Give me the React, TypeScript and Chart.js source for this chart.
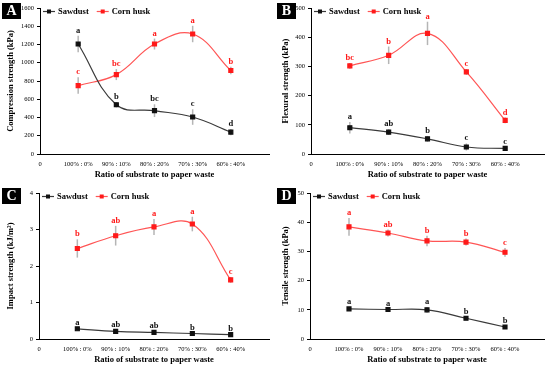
import React, { useEffect, useRef } from 'react';
import { Chart, registerables } from 'chart.js';
Chart.register(...registerables);

const FONT = "'Liberation Serif', 'DejaVu Serif', serif";

const categories = ['100% : 0%', '90% : 10%', '80% : 20%', '70% : 30%', '60% : 40%'];
const seriesNames = ['Sawdust', 'Corn husk'];

// A: Compression strength
const compSaw = [1205, 540, 475, 405, 240];
const compSawErr = [90, 30, 70, 85, 35];
const compSawLetters = ['a', 'b', 'bc', 'c', 'd'];
const compCorn = [750, 870, 1205, 1315, 915];
const compCornErr = [90, 60, 60, 90, 40];
const compCornLetters = ['c', 'bc', 'a', 'a', 'b'];

// B: Flexural strength
const flexSaw = [90, 75, 52, 24, 19];
const flexSawErr = [20, 10, 10, 12, 5];
const flexSawLetters = ['a', 'ab', 'b', 'c', 'c'];
const flexCorn = [302, 338, 413, 281, 115];
const flexCornErr = [10, 30, 40, 10, 10];
const flexCornLetters = ['bc', 'b', 'a', 'c', 'd'];

// C: Impact strength
const impSaw = [0.28, 0.21, 0.18, 0.15, 0.12];
const impSawErr = [0.03, 0.03, 0.03, 0.02, 0.02];
const impSawLetters = ['a', 'ab', 'ab', 'b', 'b'];
const impCorn = [2.48, 2.83, 3.07, 3.15, 1.62];
const impCornErr = [0.25, 0.27, 0.22, 0.2, 0.08];
const impCornLetters = ['b', 'ab', 'a', 'a', 'c'];

// D: Tensile strength
const tenSaw = [10.3, 10.1, 10.0, 7.1, 4.1];
const tenSawErr = [0.5, 0.3, 1.0, 0.5, 0.5];
const tenSawLetters = ['a', 'a', 'a', 'b', 'b'];
const tenCorn = [38.4, 36.3, 33.6, 33.2, 29.7];
const tenCornErr = [3, 1.2, 1.8, 1.2, 1.5];
const tenCornLetters = ['a', 'ab', 'b', 'b', 'c'];

type PanelCfg = {
  tag: string;
  yTitle: string;
  yMax: number;
  yStep: number;
  yWidth: number;
  saw: number[]; sawErr: number[]; sawLetters: string[];
  corn: number[]; cornErr: number[]; cornLetters: string[];
};

const panels: PanelCfg[] = [
  { tag: 'A', yTitle: 'Compression strength (kPa)', yMax: 1600, yStep: 200, yWidth: 40,
    saw: compSaw, sawErr: compSawErr, sawLetters: compSawLetters,
    corn: compCorn, cornErr: compCornErr, cornLetters: compCornLetters },
  { tag: 'B', yTitle: 'Flexural strength (kPa)', yMax: 500, yStep: 100, yWidth: 36,
    saw: flexSaw, sawErr: flexSawErr, sawLetters: flexSawLetters,
    corn: flexCorn, cornErr: flexCornErr, cornLetters: flexCornLetters },
  { tag: 'C', yTitle: 'Impact strength (kJ/m²)', yMax: 4, yStep: 1, yWidth: 39,
    saw: impSaw, sawErr: impSawErr, sawLetters: impSawLetters,
    corn: impCorn, cornErr: impCornErr, cornLetters: impCornLetters },
  { tag: 'D', yTitle: 'Tensile strength (kPa)', yMax: 50, yStep: 10, yWidth: 35,
    saw: tenSaw, sawErr: tenSawErr, sawLetters: tenSawLetters,
    corn: tenCorn, cornErr: tenCornErr, cornLetters: tenCornLetters },
];

const SAW_COLOR = '#111111';
const SAW_LINE = '#3a3a3a';
const CORN_COLOR = '#ff1a1a';
const CORN_LINE = '#ff5555';

function Panel({ cfg }: { cfg: PanelCfg }) {
  const ref = useRef<HTMLCanvasElement | null>(null);
  useEffect(() => {
    if (!ref.current) return;
    const errs = [cfg.sawErr, cfg.cornErr];
    const letters = [cfg.sawLetters, cfg.cornLetters];
    const colors = [SAW_COLOR, CORN_COLOR];
    const lineColors = [SAW_LINE, CORN_LINE];

    const overlay = {
      id: 'overlay',
      beforeDatasetsDraw(chart: any) {
        const ctx = chart.ctx;
        const ys = chart.scales.y;
        ctx.save();
        ctx.strokeStyle = '#b5b5b5';
        ctx.lineWidth = 1.5;
        chart.data.datasets.forEach((ds: any, di: number) => {
          ds.data.forEach((p: any, i: number) => {
            const x = chart.scales.x.getPixelForValue(p.x);
            const y1 = ys.getPixelForValue(p.y + errs[di][i]);
            const y2 = ys.getPixelForValue(Math.max(0, p.y - errs[di][i]));
            ctx.beginPath();
            ctx.moveTo(x, y1);
            ctx.lineTo(x, y2);
            ctx.stroke();
          });
        });
        ctx.restore();
      },
      afterDatasetsDraw(chart: any) {
        const ctx = chart.ctx;
        const ys = chart.scales.y;
        ctx.save();
        ctx.font = `bold 8.5px ${FONT}`;
        ctx.textAlign = 'center';
        ctx.textBaseline = 'alphabetic';
        chart.data.datasets.forEach((ds: any, di: number) => {
          ctx.fillStyle = colors[di];
          ds.data.forEach((p: any, i: number) => {
            const x = chart.scales.x.getPixelForValue(p.x);
            const y = ys.getPixelForValue(p.y + errs[di][i]);
            ctx.fillText(letters[di][i], x, y - 3);
          });
        });
        // panel tag
        ctx.fillStyle = '#000';
        ctx.fillRect(2, 3, 19, 16);
        ctx.fillStyle = '#fff';
        ctx.font = `bold 14px ${FONT}`;
        ctx.textAlign = 'center';
        ctx.textBaseline = 'middle';
        ctx.fillText(cfg.tag, 11.5, 11.5);
        // legend
        const ly = 11.5;
        let lx = chart.chartArea.left + 3;
        ctx.font = `bold 8.5px ${FONT}`;
        ctx.textAlign = 'left';
        seriesNames.forEach((name, di) => {
          ctx.strokeStyle = lineColors[di];
          ctx.lineWidth = 1.2;
          ctx.beginPath();
          ctx.moveTo(lx, ly);
          ctx.lineTo(lx + 12, ly);
          ctx.stroke();
          ctx.fillStyle = colors[di];
          ctx.fillRect(lx + 4, ly - 2, 4, 4);
          ctx.fillStyle = '#000';
          ctx.fillText(name, lx + 15, ly + 0.5);
          lx += 15 + ctx.measureText(name).width + 8;
        });
        ctx.restore();
      },
    };

    const mk = (vals: number[]) => vals.map((v, i) => ({ x: i + 1, y: v }));

    const chart = new Chart(ref.current, {
      type: 'scatter',
      data: {
        datasets: [
          {
            label: seriesNames[0], data: mk(cfg.saw), showLine: true,
            borderColor: SAW_LINE, backgroundColor: SAW_COLOR, pointBorderColor: SAW_COLOR,
            pointStyle: 'rect', pointRadius: 2.8, borderWidth: 1.2, tension: 0.4,
          },
          {
            label: seriesNames[1], data: mk(cfg.corn), showLine: true,
            borderColor: CORN_LINE, backgroundColor: CORN_COLOR, pointBorderColor: CORN_COLOR,
            pointStyle: 'rect', pointRadius: 2.8, borderWidth: 1.2, tension: 0.4,
          },
        ],
      },
      options: {
        animation: false,
        responsive: false,
        devicePixelRatio: 1,
        layout: { padding: { top: 8, right: 3, left: 0, bottom: 0 } },
        plugins: { legend: { display: false }, tooltip: { enabled: false } },
        scales: {
          x: {
            type: 'linear', min: 0, max: 6,
            afterFit: (s: any) => { s.height = 30; },
            grid: { display: true, drawOnChartArea: false, drawTicks: false, color: '#000' },
            border: { color: '#000', width: 1 },
            ticks: {
              stepSize: 1, autoSkip: false, maxRotation: 0, padding: 6,
              color: '#000', font: { family: FONT, size: 6.5 },
              callback: (v: any) => (v === 0 ? '0' : v >= 1 && v <= 5 ? categories[v - 1] : ''),
            },
            title: {
              display: true, text: 'Ratio of substrate to paper waste',
              color: '#000', font: { family: FONT, size: 8.5, weight: 'bold' }, padding: { top: 2, bottom: 4 },
            },
          },
          y: {
            min: 0, max: cfg.yMax,
            afterFit: (s: any) => { s.width = cfg.yWidth; },
            grid: { display: true, drawOnChartArea: false, drawTicks: true, tickLength: 3, color: '#000' },
            border: { color: '#000', width: 1 },
            ticks: {
              stepSize: cfg.yStep, padding: 3, color: '#000', font: { family: FONT, size: 6.5 },
              callback: (v: any) => String(v),
            },
            title: {
              display: true, text: cfg.yTitle,
              color: '#000', font: { family: FONT, size: 8.5, weight: 'bold' }, padding: { top: 6, bottom: 0 },
            },
          },
        },
      } as any,
      plugins: [overlay],
    });
    return () => chart.destroy();
  }, [cfg]);
  return <canvas ref={ref} width={275} height={184} style={{ display: 'block' }} />;
}

export default function App() {
  useEffect(() => {
    document.body.style.margin = '0';
  }, []);
  return (
    <div style={{ display: 'grid', gridTemplateColumns: '275px 275px', gridTemplateRows: '184px 184px', width: 550, height: 369, background: '#fff', rowGap: 1 }}>
      {panels.map((p) => (
        <Panel key={p.tag} cfg={p} />
      ))}
    </div>
  );
}
